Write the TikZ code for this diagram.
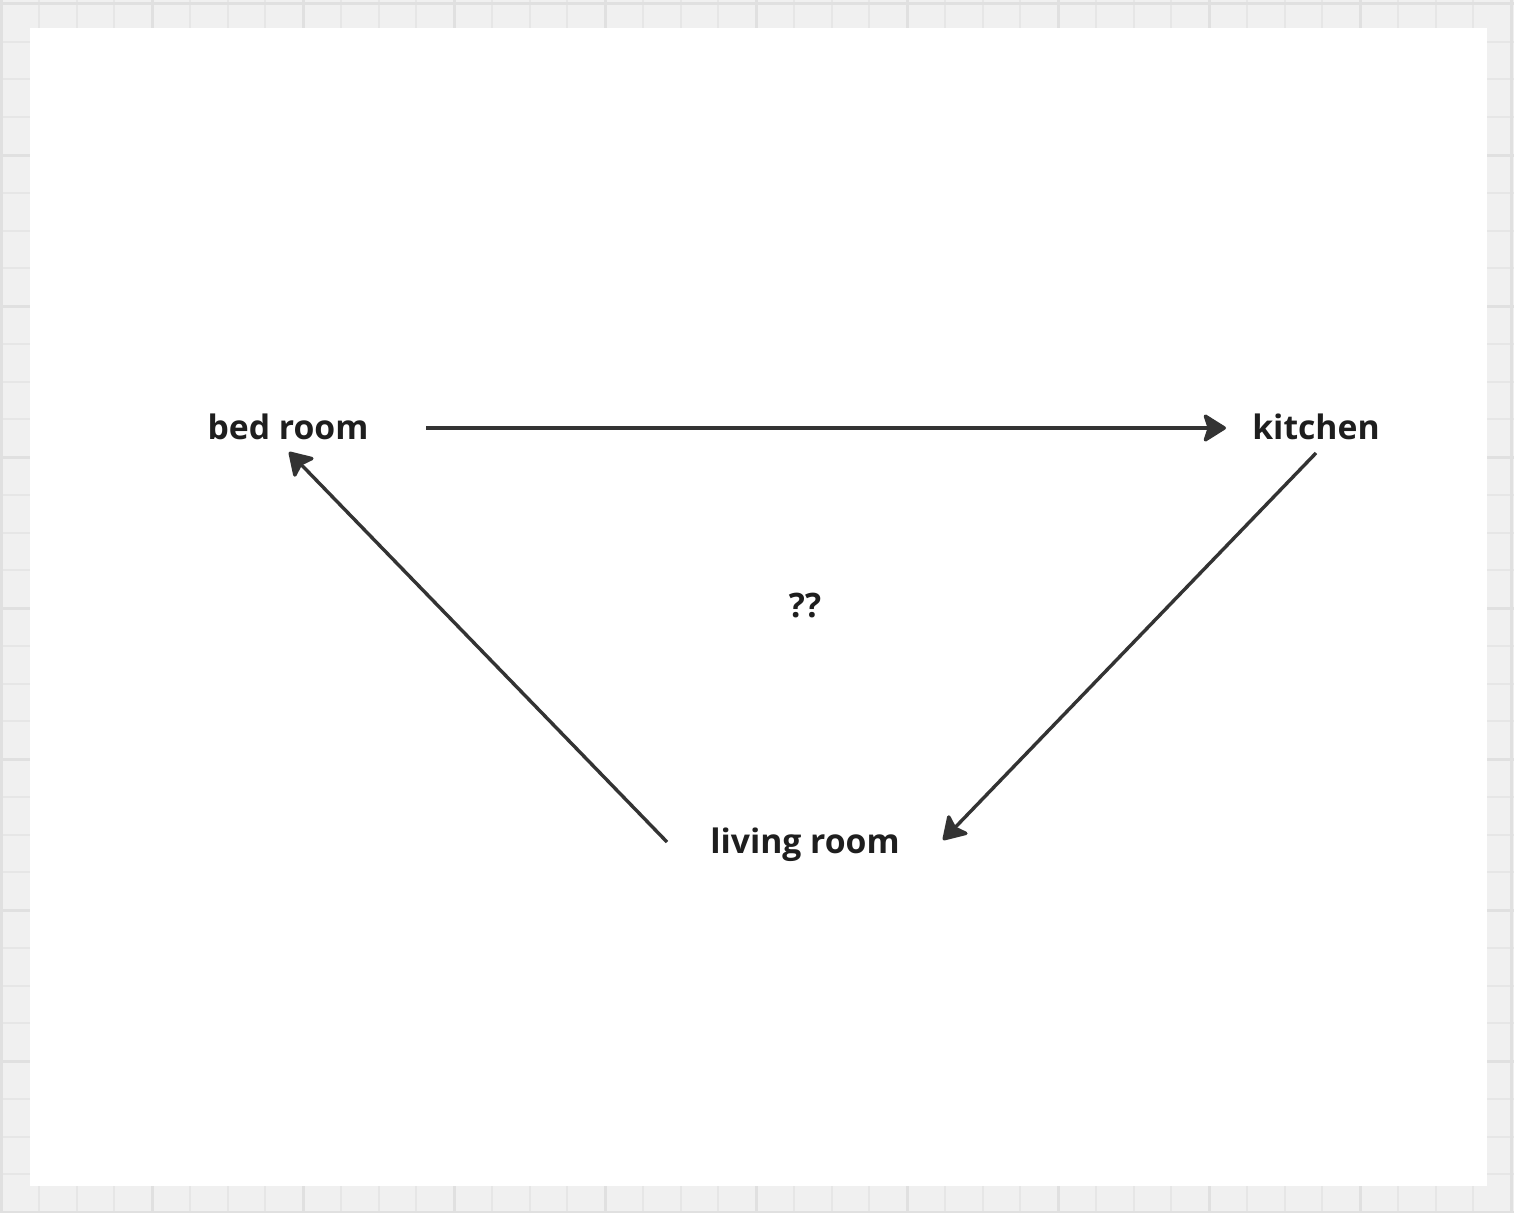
\documentclass[tikz,border=0pt]{standalone}
\usepackage{fontspec}
\setmainfont{Open Sans}
\usetikzlibrary{arrows.meta,calc}
\definecolor{gridbg}{HTML}{F0F0F0}
\definecolor{gridln}{HTML}{E6E6E6}
\definecolor{gridmj}{HTML}{E0E0E0}
\definecolor{inkcol}{HTML}{1E1E1E}
\definecolor{arrcol}{HTML}{333333}
\tikzset{
  room/.style={font=\fontsize{33.7}{40}\selectfont\bfseries, text=inkcol, inner sep=0pt, anchor=base},
  arr/.style={draw=arrcol, line width=3.4pt, -{Stealth[length=25pt, width=31pt, inset=5pt, round]}}
}
\begin{document}
\begin{tikzpicture}[x=1pt,y=-1pt]
  \useasboundingbox (0,0) rectangle (1514,1212);
  % background grid
  \fill[gridbg] (0,0) rectangle (1514,1212);
  \foreach \i in {0,...,40} {
    \draw[gridln, line width=2pt] ({1+37.75*\i},0) -- ({1+37.75*\i},1212);
    \draw[gridln, line width=2pt] (0,{4+37.75*\i}) -- (1514,{4+37.75*\i});
  }
  \foreach \i in {0,...,10} {
    \draw[gridmj, line width=3pt] ({1+151*\i},0) -- ({1+151*\i},1212);
    \draw[gridmj, line width=3pt] (0,{4+151*\i}) -- (1514,{4+151*\i});
  }
  \fill[white] (30,28) rectangle (1487,1186);
  % rooms
  \node[room] (bed) at (288,439) {bed room};
  \node[room] (kitchen) at (1316,439) {kitchen};
  \node[room] (living) at (805,853) {living room};
  \node[room] (what) at (805,617) {??};
  % moves
  \draw[arr] ($(bed.base)+(138,-11)$) -- ($(kitchen.base)+(-90,-11)$);
  \draw[arr] ($(kitchen.base)+(0,14)$) -- ($(living.base)+(138,-13)$);
  \draw[arr] ($(living.base)+(-138,-11)$) -- ($(bed.base)+(1,13)$);
\end{tikzpicture}
\end{document}
